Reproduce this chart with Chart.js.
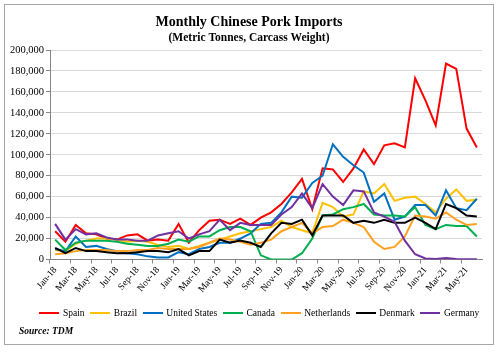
<!DOCTYPE html>
<html><head><meta charset="utf-8">
<script src="https://cdn.jsdelivr.net/npm/chart.js@4/dist/chart.umd.min.js"></script>
<style>html,body{margin:0;padding:0;background:#fff;}#wrap{width:500px;height:355px;}</style>
</head><body><div id="wrap"><canvas id="c" width="500" height="355"></canvas></div>
<script>
const categories = ['Jan-18','Feb-18','Mar-18','Apr-18','May-18','Jun-18','Jul-18','Aug-18','Sep-18','Oct-18','Nov-18','Dec-18',
 'Jan-19','Feb-19','Mar-19','Apr-19','May-19','Jun-19','Jul-19','Aug-19','Sep-19','Oct-19','Nov-19','Dec-19',
 'Jan-20','Feb-20','Mar-20','Apr-20','May-20','Jun-20','Jul-20','Aug-20','Sep-20','Oct-20','Nov-20','Dec-20',
 'Jan-21','Feb-21','Mar-21','Apr-21','May-21','Jun-21'];
const spain = [27000,17000,33000,25000,24000,20000,19000,23000,24000,18000,19000,18000,34000,16000,28000,37000,38000,34000,39000,33000,40000,45000,53000,64000,77000,48000,87000,86000,74000,87000,105000,91000,109000,111000,107000,173000,152000,128000,187000,182000,125000,107000];
const brazil = [9000,8000,15000,18000,20000,20000,19000,17000,18000,17000,14000,12000,13000,10000,13000,16000,19000,22000,25000,27000,29000,31000,37000,31000,28000,25000,54000,50000,41000,43000,65000,63000,72000,56000,59000,60000,53000,45000,58000,67000,56000,57000];
const unitedStates = [10000,8000,22000,12000,13000,10000,8000,6000,5000,3000,2000,2000,7000,5000,10000,12000,16000,16000,20000,25000,34000,35000,45000,60000,59000,73000,80000,110000,98000,90000,83000,55000,63000,38000,41000,52000,52000,42000,66000,49000,47000,58000];
const canada = [19000,9000,16000,18000,18000,18000,17000,15000,14000,13000,13000,15000,19000,17000,22000,22000,28000,31000,31000,27000,4000,0,0,0,6000,20000,42000,43000,48000,50000,53000,43000,42000,42000,41000,50000,33000,29000,33000,32000,32000,22000];
const netherlands = [5000,6000,8000,9000,9000,9000,8000,8000,9000,9000,11000,10000,10000,10000,12000,16000,20000,19000,17000,14000,16000,19000,27000,31000,35000,25000,31000,32000,38000,35000,31000,17000,10000,12000,22000,42000,41000,39000,45000,38000,33000,34000];
const denmark = [11000,6000,11000,8000,8000,7000,6000,6000,7000,8000,8000,7000,10000,4000,8000,8000,19000,16000,18000,16000,12000,25000,35000,34000,38000,23000,42000,42000,42000,35000,37000,35000,38000,35000,35000,40000,35000,29000,53000,49000,42000,41000];
const germany = [34000,19000,29000,24000,25000,21000,19000,19000,18000,18000,23000,25000,27000,20000,24000,27000,38000,28000,35000,33000,33000,33000,43000,50000,63000,49000,72000,60000,52000,66000,65000,45000,41000,36000,18000,5000,1000,500,1500,500,300,300];
const seriesNames = ['Spain','Brazil','United States','Canada','Netherlands','Denmark','Germany'];
const seriesColors = ['#FF0000','#FFC000','#0070C0','#00B050','#FFA020','#000000','#7030A0'];
const yTicks = [0,20000,40000,60000,80000,100000,120000,140000,160000,180000,200000];
const titleText = 'Monthly Chinese Pork Imports';
const subtitleText = '(Metric Tonnes, Carcass Weight)';
const sourceText = 'Source: TDM';

const SERIF = '"Liberation Serif", "Times New Roman", serif';
const allSeries = [spain, brazil, unitedStates, canada, netherlands, denmark, germany];

// small line swatches used as legend symbols
const legendSwatches = seriesColors.map(col => {
  const cv = document.createElement('canvas');
  cv.width = 20; cv.height = 2;
  const g = cv.getContext('2d');
  g.fillStyle = col; g.fillRect(0, 0, 20, 2);
  return cv;
});

const frame = {
  id: 'frame',
  beforeDraw(chart) {
    const ctx = chart.ctx;
    ctx.save();
    ctx.fillStyle = '#fff';
    ctx.fillRect(0, 0, chart.width, chart.height);
    ctx.strokeStyle = '#a6a6a6';
    ctx.lineWidth = 1;
    ctx.strokeRect(4.5, 4.5, 489, 340);
    ctx.fillStyle = '#000';
    ctx.textAlign = 'center';
    ctx.textBaseline = 'middle';
    ctx.font = 'bold 14px ' + SERIF;
    ctx.fillText(titleText, 249, 22);
    ctx.font = 'bold 11.5px ' + SERIF;
    ctx.fillText(subtitleText, 249, 38);
    ctx.textAlign = 'left';
    ctx.font = 'italic bold 9.5px ' + SERIF;
    ctx.fillText(sourceText, 19, 332);
    ctx.restore();
  },
  afterUpdate(chart) {
    const l = chart.legend;
    if (!l) return;
    l.left += 14; l.right += 14;
    l.top += 5; l.bottom += 5;
    l.adjustHitBoxes();
  }
};

new Chart(document.getElementById('c'), {
  type: 'line',
  data: {
    labels: categories,
    datasets: allSeries.map((d, i) => ({
      label: seriesNames[i],
      data: d,
      borderColor: seriesColors[i],
      backgroundColor: seriesColors[i],
      borderWidth: 2,
      pointRadius: 0,
      pointHoverRadius: 0,
      tension: 0,
      fill: false,
      order: allSeries.length - 1 - i
    }))
  },
  options: {
    responsive: false,
    animation: false,
    devicePixelRatio: 1,
    layout: { padding: { left: 10, right: 18, top: 50, bottom: 32 } },
    plugins: {
      tooltip: { enabled: false },
      title: { display: false },
      legend: {
        position: 'bottom',
        labels: {
          usePointStyle: true,
          pointStyleWidth: 17.5,
          boxHeight: 9,
          padding: 7,
          color: '#000',
          font: { family: SERIF, size: 9.5 },
          sort: (a, b) => a.datasetIndex - b.datasetIndex,
          generateLabels(chart) {
            const items = Chart.defaults.plugins.legend.labels.generateLabels(chart);
            items.forEach(it => { it.pointStyle = legendSwatches[it.datasetIndex]; });
            return items;
          }
        }
      }
    },
    scales: {
      x: {
        offset: true,
        afterFit(scale) { scale.height = 37; },
        border: { display: true, color: '#868686', width: 1 },
        grid: {
          display: true,
          drawOnChartArea: false,
          drawTicks: true,
          tickLength: 4,
          offset: true,
          color: (c) => (c.index % 2 === 0 ? '#868686' : 'rgba(0,0,0,0)')
        },
        ticks: {
          autoSkip: false,
          minRotation: 50,
          maxRotation: 50,
          padding: 1,
          color: '#000',
          font: { family: SERIF, size: 9.5 },
          callback: (v, i) => (i % 2 === 0 ? categories[i] : '')
        }
      },
      y: {
        min: 0,
        max: 200000,
        afterFit(scale) { scale.width = 40; },
        afterBuildTicks(scale) { scale.ticks = yTicks.map(v => ({ value: v })); },
        border: { display: true, color: '#868686', width: 1 },
        grid: { color: '#d9d9d9', lineWidth: 1, tickLength: 4, tickColor: '#868686' },
        ticks: {
          padding: 2,
          color: '#000',
          font: { family: SERIF, size: 10.5 },
          callback: (v) => v.toLocaleString('en-US')
        }
      }
    }
  },
  plugins: [frame]
});
</script>
</body></html>
